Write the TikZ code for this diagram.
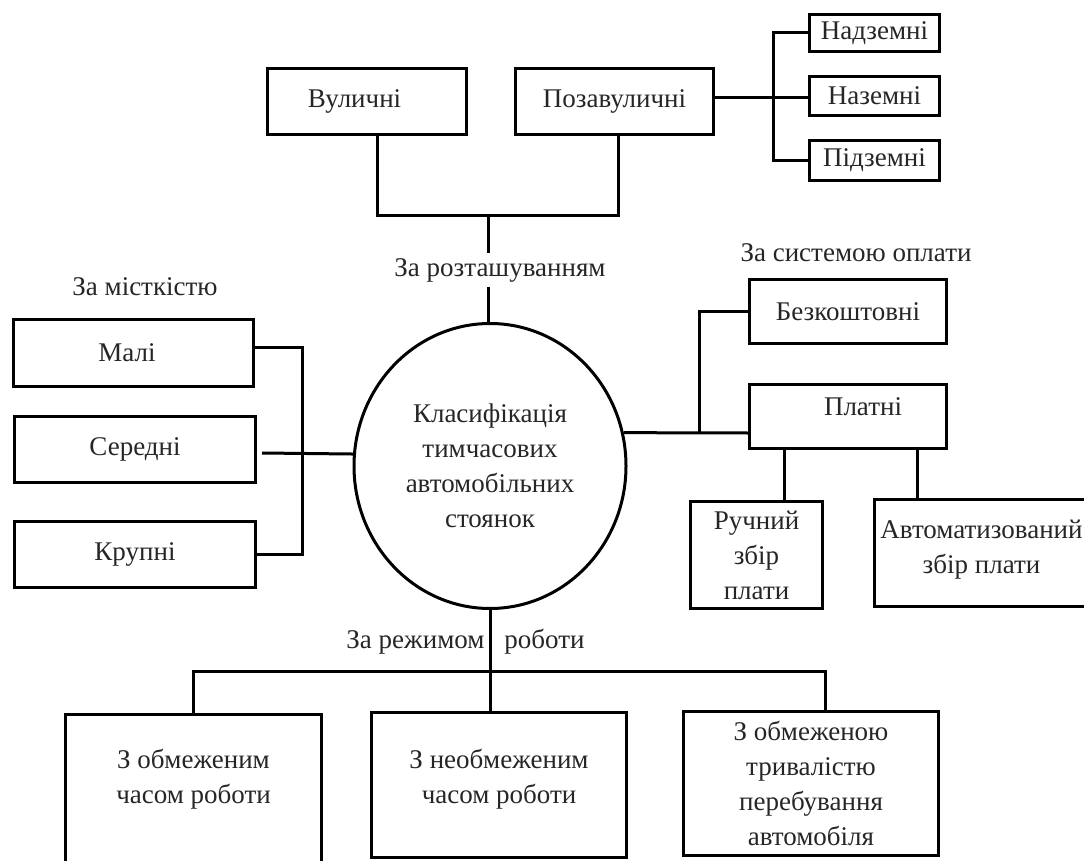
\documentclass[tikz,border=0pt]{standalone}
\usepackage{fontspec}
\setmainfont{Liberation Serif}
\usetikzlibrary{shapes.geometric,calc}

% text raised inside a box (declared height/depth changed)
\newcommand{\lift}[2]{\raisebox{0pt}[\dimexpr\height-#1\relax][\dimexpr\depth+#1\relax]{\begin{tabular}{@{}c@{}}#2\end{tabular}}}

\tikzset{
  blok/.style args={#1,#2}{draw, line width=3pt, rectangle, inner sep=0pt,
    minimum width=#1, minimum height=#2, align=center},
  conn/.style={line width=3pt},
  lbl/.style={inner sep=5pt},
  every node/.append style={font=\fontsize{27}{35}\selectfont, text=black!85}
}

\begin{document}
\begin{tikzpicture}[x=1pt,y=-1pt]
\useasboundingbox (0,0) rectangle (1084,861);

\node[draw, ellipse, line width=3pt, minimum width=272, minimum height=285, align=center]
  (klas) at (490,466) {Класифікація\\тимчасових\\автомобільних\\стоянок};

% за розташуванням
\node[blok={199,66}] (vul) at (367,101.5) {\hspace*{-25pt}Вуличні};
\node[blok={198,66}] (pozav) at (614.5,101.5) {Позавуличні};
\node[blok={130,37}] (nadz) at (874.5,33) {Надземні};
\node[blok={130,39}] (nazem) at (874.5,96) {Наземні};
\node[blok={130,40}] (pidz) at (874.5,160.5) {Підземні};
\node[lbl] (rozt) at (500,270) {За розташуванням};
\coordinate (j1) at (488,216);
\coordinate (j5) at (773,98);
\draw[conn] ($(vul.south)+(10,0)$) |- (j1) -| ($(pozav.south)+(3.5,0)$);
\draw[conn] (j1) -- (j1 |- rozt.north);
\draw[conn] (j1 |- rozt.south) -- (j1 |- klas.north);
\draw[conn] (j5 -| pozav.east) -- (j5 -| nazem.west);
\draw[conn] (nadz.west) -| (j5) |- (pidz.west);

% за місткістю
\node[lbl] (mist) at (145,287) {За місткістю};
\node[blok={240,67}] (mali) at (133.5,353) {\hspace*{-13pt}Малі};
\node[blok={241,66}] (sered) at (135,449.5) {Середні};
\node[blok={241,66}] (krup) at (135,554.5) {Крупні};
\coordinate (j4) at (302,453);
\draw[conn] ([yshift=6pt]mali.east) -| (j4) |- (krup.east);
\draw[conn] (j4 -| sered.east) ++(5,0) -- (klas.175);

% за системою оплати
\node[lbl] (sys) at (856,253) {За системою оплати};
\node[blok={197,64}] (bezk) at (848,311.5) {Безкоштовні};
\node[blok={197,64}] (plat) at (848,416.5) {\lift{8pt}{\hspace*{30pt}Платні}};
\node[blok={132,107}] (ruch) at (756.5,555) {Ручний\\збір\\плати};
\node[blok={214,107}] (avto) at (981.5,553) {\lift{4pt}{Автоматизований\\збір плати}};
\coordinate (j3) at (699,433);
\coordinate (r1) at ($(plat.south)+(-64,0)$);
\coordinate (r2) at ($(plat.south)+(69,0)$);
\draw[conn] (klas.14) -- (j3 -| plat.west);
\draw[conn] (j3) |- (bezk.west);
\draw[conn] (r1) -- (r1 |- ruch.north);
\draw[conn] (r2) -- (r2 |- avto.north);

% за режимом роботи
\node[lbl] (rezh) at (465.5,642) {За режимом\hspace{20pt}роботи};
\node[blok={256,149}] (obm) at (193.5,789) {\lift{10pt}{З обмеженим\\часом роботи}};
\node[blok={255,145}] (neobm) at (499,785) {\lift{6pt}{З необмеженим\\часом роботи}};
\node[blok={255,144}] (trival) at (811,783.5) {З обмеженою\\тривалістю\\перебування\\автомобіля};
\coordinate (j2) at (490,671);
\draw[conn] (klas.south) -- (klas.south |- neobm.north);
\draw[conn] (obm.north) |- (j2) -| ($(trival.north)+(14,0)$);
\end{tikzpicture}
\end{document}
